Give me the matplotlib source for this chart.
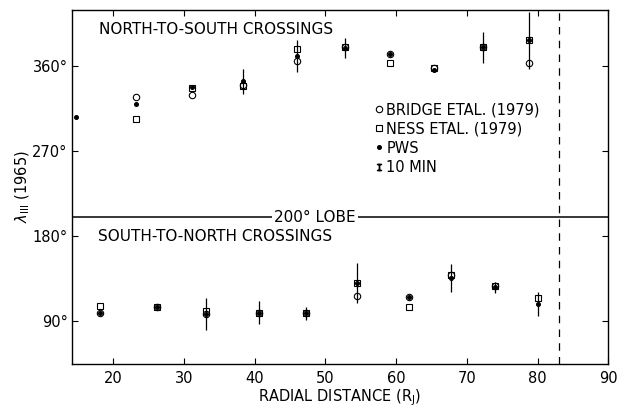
import numpy as np
import matplotlib
matplotlib.use("Agg")
import matplotlib.pyplot as plt
from matplotlib.lines import Line2D

# north-to-south crossings (upper panel)
ns_x = [23.2, 31.1, 38.4, 46.0, 52.7, 59.1, 65.4, 72.3, 78.8]
ns_bridge = [326.9, 328.6, 339.9, 365.3, 379.8, 372.7, 357.5, 379.4, 362.8]
ns_ness = [303.6, 336.0, 338.8, 377.7, 379.8, 362.8, 357.5, 379.4, 386.8]
ns_pws_x = [14.7, 23.2, 31.1, 38.4, 46.0, 52.7, 59.1, 65.4, 72.3, 78.8]
ns_pws = [306.0, 319.4, 337.4, 343.4, 369.9, 378.7, 372.7, 355.8, 379.4, 386.8]
ns_pws_err = [0, 0, 0, 13, 17, 11, 0, 0, 16, 30]

# south-to-north crossings (lower panel)
sn_x = [18.1, 26.1, 33.1, 40.6, 47.2, 54.5, 61.8, 67.7, 74.0, 80.0]
sn_bridge_x = [18.1, 26.1, 33.1, 40.6, 47.2, 54.5, 61.8, 67.7, 74.0]
sn_bridge = [98.8, 104.5, 97.1, 98.8, 98.1, 116.8, 115.4, 138.7, 127.0]
sn_ness = [105.9, 104.5, 100.6, 98.8, 98.1, 129.9, 104.8, 138.7, 127.0, 114.7]
sn_pws = [98.8, 104.5, 97.1, 98.8, 98.1, 129.9, 115.4, 135.2, 125.7, 108.0]
sn_pws_err = [0, 0, 17, 12, 7, 21, 0, 15, 6, 13]

lobe = 200
limit_x = 83
xticks = [20, 30, 40, 50, 60, 70, 80, 90]
yticks = [90, 180, 270, 360]

fig = plt.figure(figsize=(6.29, 4.07), dpi=100)
ax = fig.add_axes([0.114, 0.1057, 0.853, 0.8697])

circ = dict(marker='o', ms=4.6, mfc='none', mec='k', mew=0.8, ls='none')
sq = dict(marker='s', ms=4.4, mfc='none', mec='k', mew=0.8, ls='none')
dot = dict(fmt='o', ms=2.6, color='k', elinewidth=0.9, capsize=0)

ax.plot(ns_x, ns_bridge, **circ)
ax.plot(ns_x, ns_ness, **sq)
ax.errorbar(ns_pws_x, ns_pws, yerr=ns_pws_err, clip_on=False, **dot)

ax.plot(sn_bridge_x, sn_bridge, **circ)
ax.plot(sn_x, sn_ness, **sq)
ax.errorbar(sn_x, sn_pws, yerr=sn_pws_err, **dot)

ax.axhline(lobe, color='k', lw=1.1)
ax.axvline(limit_x, color='k', lw=0.9, ls=(0, (6, 5)))
ax.text(48.5, lobe, "200° LOBE", fontsize=11, ha='center', va='center',
        bbox=dict(fc='w', ec='none', pad=1.5))

ax.text(18.0, 398, "NORTH-TO-SOUTH CROSSINGS", fontsize=11, va='center')
ax.text(17.8, 179, "SOUTH-TO-NORTH CROSSINGS", fontsize=11, va='center')

handles = [Line2D([], [], **circ), Line2D([], [], **sq),
           Line2D([], [], marker='o', ms=2.6, color='k', ls='none'),
           Line2D([], [], marker='$\\mathtt{I}$', ms=5, color='k', ls='none')]
labels = ["BRIDGE ETAL. (1979)", "NESS ETAL. (1979)", "PWS", "10 MIN"]
ax.legend(handles, labels, loc='upper left', bbox_to_anchor=(0.54, 0.776),
          frameon=False, fontsize=10.5, handlelength=0.6, handletextpad=0.2,
          labelspacing=0.28)

ax.set_xlim(14.1, 90)
ax.set_ylim(44.5, 419)
ax.set_xticks(xticks)
ax.set_yticks(yticks)
ax.set_yticklabels([f"{v}°" for v in yticks])
ax.tick_params(direction='in', length=4, width=0.8, top=True, right=True,
               labelsize=10.5)
ax.tick_params(axis='x', pad=5)
ax.tick_params(axis='y', pad=3)
for s in ax.spines.values():
    s.set_linewidth(1.0)

ax.set_xlabel("RADIAL DISTANCE (R$_\\mathrm{J}$)", fontsize=10.5, labelpad=1)
ax.set_ylabel("$\\lambda_{\\mathrm{III}}$ (1965)", fontsize=10.5, labelpad=0)

fig.savefig("out.png", dpi=100)
